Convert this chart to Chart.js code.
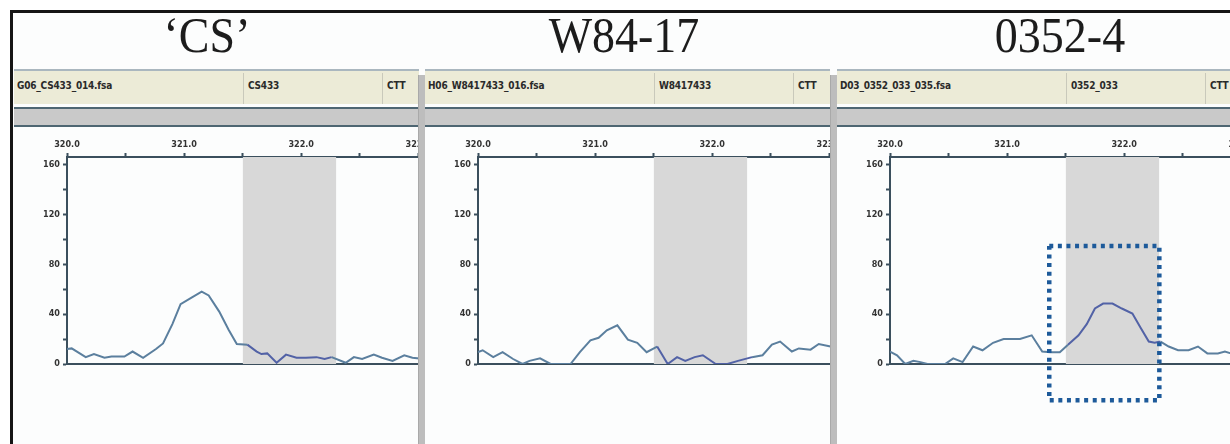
<!DOCTYPE html>
<html lang="en">
<head>
    <meta charset="UTF-8">
    <title>Fragment traces</title>
    <script src="https://cdn.jsdelivr.net/npm/chart.js"></script>
    <style>
        body { margin: 0; width: 1230px; height: 444px; overflow: hidden; background: #fff; position: relative; }
        .frame { position: absolute; left: 10px; top: 10px; width: 1240px; height: 450px;
                 border-left: 3px solid #151515; border-top: 3px solid #151515; background: #fcfdfd; }
        .title { position: absolute; top: 14px; width: 400px; text-align: center;
                 font-family: "Liberation Serif", "Times New Roman", serif; font-size: 46px; line-height: 46px;
                 color: #1c1c1c; transform: scaleY(1.12); transform-origin: 50% 85%; }
        .head { position: absolute; top: 69px; height: 58px; }
        .beige { position: absolute; left: 0; right: 0; top: 0; height: 33px; background: #ecebd7;
                 border-top: 2px solid #aab7bf; }
        .beige span { position: absolute; top: 9px; font-family: "Liberation Sans Narrow", "Arial Narrow", "DejaVu Sans Condensed", sans-serif;
                      font-weight: bold; font-size: 10px; color: #2a2a2a; letter-spacing: -0.2px; }
        .beige i { position: absolute; top: 2px; bottom: 0; width: 1px; background: #c9c9bb; }
        .band { position: absolute; left: 0; right: 0; top: 38px; height: 16px; background: #c9c9c9;
                border-top: 2px solid #4e6672; border-bottom: 2px solid #4e6672; }
        .sep { position: absolute; top: 75px; width: 6px; height: 380px; background: #bdbdbd;
               border-left: 1px solid #a9a9a9; }
        .plot { position: absolute; top: 128px; height: 316px; overflow: hidden; }
    </style>
</head>
<body>
    <div class="frame"></div>
    <div id="page"></div>

    <script>
        // strain names and file labels
        const strains = ['\u2018CS\u2019', 'W84-17', '0352-4'];
        const fileNames = ['G06_CS433_014.fsa', 'H06_W8417433_016.fsa', 'D03_0352_033_035.fsa'];
        const sampleNames = ['CS433', 'W8417433', '0352_033'];
        const alleleNames = ['CTT', 'CTT', 'CTT'];

        // trace values (size in bp, fluorescence)
        const csX = [320.0, 320.04, 320.16, 320.23, 320.32, 320.38, 320.49, 320.56, 320.65, 320.76, 320.82, 320.90,
                     320.97, 321.06, 321.15, 321.21, 321.30, 321.38, 321.45, 321.54, 321.62, 321.66, 321.71, 321.79,
                     321.87, 321.96, 322.04, 322.13, 322.20, 322.26, 322.38, 322.45, 322.52, 322.62, 322.69, 322.78,
                     322.88, 322.95, 323.01];
        const csY = [12, 12.5, 5.5, 8, 5, 6, 6, 10, 5, 12, 16.5, 32,
                     48, 53, 58, 55, 42, 27.5, 16, 15.5, 10, 8, 8.5, 1,
                     7.5, 5, 5, 5.5, 4, 5.5, 1, 5.5, 4, 7.5, 5, 2.5,
                     7, 5, 4.5];

        const w84X = [320.0, 320.04, 320.13, 320.21, 320.30, 320.38, 320.44, 320.53, 320.62, 320.79, 320.87, 320.96,
                      321.03, 321.10, 321.19, 321.28, 321.36, 321.44, 321.53, 321.62, 321.70, 321.77, 321.85, 321.92,
                      322.03, 322.13, 322.22, 322.34, 322.43, 322.51, 322.58, 322.68, 322.74, 322.84, 322.91, 323.01];
        const w84Y = [9.5, 11, 5.5, 9.5, 4, 0, 2.5, 4.5, 0, 0, 9.5, 19,
                      21, 27, 31, 19.5, 17, 9.5, 14, 0, 5.5, 2.5, 5.5, 7,
                      0, 0, 2.5, 5.5, 7, 15.5, 18, 10, 12.5, 11.5, 16, 14];

        const l0352X = [320.0, 320.06, 320.13, 320.20, 320.26, 320.32, 320.47, 320.54, 320.62, 320.71, 320.79, 320.88,
                        320.97, 321.11, 321.21, 321.30, 321.37, 321.45, 321.52, 321.61, 321.68, 321.75, 321.82, 321.90,
                        321.98, 322.07, 322.14, 322.21, 322.26, 322.31, 322.38, 322.46, 322.55, 322.63, 322.71, 322.80,
                        322.86, 322.91];
        const l0352Y = [10, 7, 0, 2.5, 1.5, 0, 0, 4.5, 1.5, 14, 11, 17,
                        20, 20, 23, 10, 9.5, 9.5, 15.5, 23, 32, 44.5, 48.5, 48.5,
                        44.5, 40.5, 29, 18, 17, 18, 14, 11, 11, 14, 8.5, 8.5,
                        10, 8.5];

        const traceX = [csX, w84X, l0352X];
        const traceY = [csY, w84Y, l0352Y];

        // grey bin and the dotted box on the last panel
        const binRange = [321.5, 322.3];
        const boxX = [321.36, 322.3];
        const boxY = [-29, 94.6];

        const xRange = [320, 323.45];
        const yRange = [0, 166];

        // panel placement
        const panelLeft = [14, 425, 837];
        const panelWidth = [405, 405, 393];
        const titleCenter = [207, 624, 1060];

        const page = document.getElementById('page');
        panelLeft.forEach((left, i) => {
            const t = document.createElement('div');
            t.className = 'title';
            t.style.left = (titleCenter[i] - 200) + 'px';
            t.textContent = strains[i];
            page.appendChild(t);

            const h = document.createElement('div');
            h.className = 'head';
            h.style.left = left + 'px';
            h.style.width = panelWidth[i] + 'px';
            h.innerHTML = '<div class="beige">' +
                '<span style="left:3px">' + fileNames[i] + '</span>' +
                '<i style="left:229px"></i><span style="left:234px">' + sampleNames[i] + '</span>' +
                '<i style="left:368px"></i><span style="left:373px">' + alleleNames[i] + '</span>' +
                '</div><div class="band"></div>';
            page.appendChild(h);

            if (i > 0) {
                const s = document.createElement('div');
                s.className = 'sep';
                s.style.left = (left - 7) + 'px';
                page.appendChild(s);
            }

            const p = document.createElement('div');
            p.className = 'plot';
            p.style.left = left + 'px';
            p.style.width = panelWidth[i] + 'px';
            p.innerHTML = '<canvas id="c' + i + '" width="470" height="316"></canvas>';
            page.appendChild(p);
        });

        const tickFont = { family: '"Liberation Sans Narrow", "Arial Narrow", "DejaVu Sans Condensed", sans-serif', size: 9, weight: 'bold' };
        const axisColor = '#3b4f5d';

        function makeChart(i) {
            const pts = traceX[i].map((x, k) => ({ x: x, y: traceY[i][k] }));
            const datasets = [];

            if (i === 2) {
                datasets.push({
                    data: [
                        { x: boxX[0], y: boxY[1] }, { x: boxX[1], y: boxY[1] },
                        { x: boxX[1], y: boxY[0] }, { x: boxX[0], y: boxY[0] },
                        { x: boxX[0], y: boxY[1] }
                    ],
                    borderColor: '#1d5a9a',
                    borderWidth: 4.5,
                    borderDash: [4, 4.6],
                    borderCapStyle: 'butt',
                    pointRadius: 0,
                    fill: false,
                    clip: false
                });
            }

            datasets.push({
                data: pts,
                borderColor: '#5b7f9e',
                borderWidth: 2,
                pointRadius: 0,
                tension: 0,
                fill: false,
                segment: {
                    borderColor: ctx => (ctx.p0.parsed.x >= binRange[0] && ctx.p1.parsed.x <= binRange[1] + 0.05) ? '#5262a6' : undefined
                }
            });

            // shaded bin
            datasets.push({
                data: [{ x: binRange[0], y: yRange[1] }, { x: binRange[1], y: yRange[1] }],
                borderWidth: 0,
                borderColor: 'rgba(0,0,0,0)',
                backgroundColor: '#d8d8d8',
                pointRadius: 0,
                fill: 'origin'
            });

            new Chart(document.getElementById('c' + i), {
                type: 'line',
                data: { datasets: datasets },
                options: {
                    responsive: false,
                    animation: false,
                    layout: { padding: { left: 23, right: 13, top: 0, bottom: 80 } },
                    plugins: { legend: { display: false }, tooltip: { enabled: false } },
                    scales: {
                        x: {
                            type: 'linear',
                            position: 'top',
                            min: xRange[0],
                            max: xRange[1],
                            afterFit: s => { s.height = 29; },
                            ticks: {
                                stepSize: 0.5,
                                includeBounds: false,
                                maxRotation: 0,
                                autoSkip: false,
                                padding: 3,
                                color: '#333',
                                font: tickFont,
                                callback: v => (Math.abs(v - Math.round(v)) < 1e-6 ? v.toFixed(1) : '')
                            },
                            grid: { drawOnChartArea: false, tickLength: 4, tickWidth: 2, color: axisColor },
                            border: { color: axisColor, width: 2 }
                        },
                        xb: {
                            type: 'linear',
                            position: 'bottom',
                            min: xRange[0],
                            max: xRange[1],
                            afterFit: s => { s.height = 0; },
                            ticks: { display: false },
                            grid: { display: false },
                            border: { color: axisColor, width: 2 }
                        },
                        y: {
                            min: yRange[0],
                            max: yRange[1],
                            afterFit: s => { s.width = 30; },
                            ticks: {
                                stepSize: 20,
                                includeBounds: false,
                                padding: 3,
                                color: '#333',
                                font: tickFont,
                                callback: v => (v % 40 === 0 ? v : '')
                            },
                            grid: { drawOnChartArea: false, tickLength: 4, tickWidth: 2, color: axisColor },
                            border: { color: axisColor, width: 2 }
                        }
                    }
                }
            });
        }

        [0, 1, 2].forEach(makeChart);
    </script>
</body>
</html>
